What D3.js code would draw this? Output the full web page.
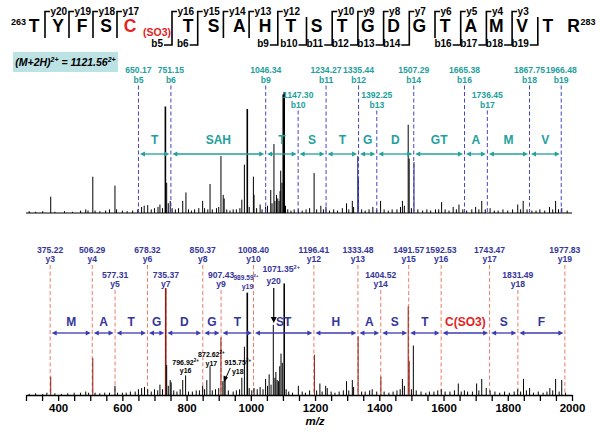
<!DOCTYPE html>
<html><head><meta charset="utf-8">
<script src="https://cdn.jsdelivr.net/npm/d3@7"></script>
<style>body{margin:0;background:#fff}svg{display:block;font-family:"Liberation Sans",Arial,sans-serif}</style>
</head><body><svg id="c" width="605" height="432"></svg>
<script>
// ---------- DATA ----------
const seq = ["T","Y","F","S","C","T","S","A","H","T","S","T","G","D","G","T","A","M","V","T","R"];
const seqStart = 263, seqEnd = 283;
const modIndex = 4;               // C(SO3)
const headerY = [20,19,18,17,16,15,14,13,12,10,9,8,7,6,5,4,3];
const headerB = [5,6,9,10,11,12,13,14,16,17,18,19];
const precursorText = "1121.56";

const bNum = [5,6,9,10,11,12,13,14,16,17,18,19];
const bMz  = [650.17,751.15,1046.34,1147.30,1234.27,1335.44,1392.25,1507.29,1665.38,1736.45,1867.75,1966.48];
const bRow = [0,0,0,1,0,0,1,0,0,1,0,0];
const bSegLabels = ["T","SAH","T","S","T","G","D","GT","A","M","V"];

const yNum = [3,4,5,6,7,8,9,10,12,13,14,15,16,17,18,19];
const yMz  = [375.22,506.29,577.31,678.32,735.37,850.37,907.43,1008.40,1196.41,1333.48,1404.52,1491.57,1592.53,1743.47,1831.49,1977.83];
const yRow = [0,0,1,0,1,0,1,0,0,0,1,0,0,0,1,0];
const ySegLabels = ["M","A","T","G","D","G","T","ST","H","A","S","T","C(SO3)","S","F"];

const dcMz  = [989.59,1071.35,796.92,872.62,915.75];
const dcIon = ["y19","y20","y16","y17","y18"];

const xTicks = [300,350,400,450,500,550,600,650,700,750,800,850,900,950,1000,1050,1100,1150,1200,1250,1300,1350,1400,1450,1500,1550,1600,1650,1700,1750,1800,1850,1900,1950,2000];
const xTickLabels = [400,600,800,1000,1200,1400,1600,1800,2000];

const topMz = [310,330,352,377,390,420,445,470,486,493,508,515,530,548,560,577,582,600,615,632,648,
  660,668,679,690,700,711,717,725,734,738,743,749,755,765,775,788,798,806,815,825,838,850,856,866,873,880,893,900,907,914,917,925,935,945,955,966,972,980,989,995,1008,1010,1018,1029,1035,1046,1052,1062,1066,1072,1075,1080,1084,1088,1091,1093,1097,1101,1104,1108,1115,
  1125,1135,1148,1160,1172,1183,1197,1205,1218,1226,1234,1245,1258,1270,1285,1298,1305,1316,1320,1333,1335,1345,1356,1368,1380,1392,1404,1415,1428,1440,1455,1466,1472,1478,1490,1493,1500,1508,1520,1535,1548,1560,1575,1585,1594,1605,1617,1630,1640,1648,1660,1672,1688,1700,1710,1719,1730,1745,1758,1770,1785,1800,1815,1831,1840,1848,1860,1875,1888,1900,1915,1930,1940,1949,1958,1968,1985];
const topInt = [1.5,1,1.5,13.5,1,1.5,1,2,3,2,30,2,1.5,2,3,22.6,3,2,1.5,2,3,
  5,6,6.5,3,4,5,7,4,88,25,8,10,4,3,4,10,17,3,2,3,4,10,4,3,24,3,4,5,47,15,12,3,2,3,3,4,11,40,86,5,30,15,4,7,3,5,6,19,8,57,10,15,12,10,18,35,25,98,100,6,3,
  2,3,3,2,3,4,33,3,6,3,5,2,3,2,4,8,3,10,5,47,30,3,2,3,5,3,10,3,2,3,3,5,10,6,73,45,4,42,3,2,3,2,3,3,9,3,2,5,3,7,3,2,3,5,3,10,3,4,2,2,3,2,3,7,3,10,3,2,2,3,2,5,3,10,3,4,2];

const botMz = [310,330,352,365,377,390,410,430,450,470,486,495,508,515,530,545,560,577,585,600,612,625,640,650,660,669,679,690,700,710,717,725,735,738,743,749,752,760,770,780,788,797,806,818,830,840,850,856,863,873,880,890,900,907,913,917,920,930,945,955,965,972,980,989,995,1003,1010,1020,1029,1038,1046,1052,1057,1063,1070,1075,1078,1082,1086,1090,1094,1098,1104,1110,1118,
  1130,1148,1160,1170,1183,1198,1205,1215,1222,1233,1238,1250,1262,1275,1288,1298,1305,1316,1320,1334,1345,1356,1370,1378,1392,1405,1415,1430,1443,1455,1465,1472,1478,1490,1493,1500,1506,1515,1530,1545,1556,1570,1582,1593,1605,1620,1634,1646,1655,1665,1675,1690,1703,1710,1719,1733,1745,1760,1775,1790,1805,1820,1831,1840,1849,1858,1868,1880,1895,1910,1922,1931,1940,1949,1960,1968,1980];
const botInt = [1,1.5,1,2,16,1.5,1,1.5,2,2,3,2,32,2,1.5,2,2,8,2,2,2,3,3,5,6,7,5,3,5,4,9,5,93,26,8,13,11,4,3,5,13,17,3,3,4,4,8,5,13,25,4,5,6,50,12,16,14,4,3,4,5,15,42,89,6,4,6,5,7,5,14,8,18,9,61,15,20,13,12,25,36,28,97,5,3,
  2,8,3,2,4,35,4,10,3,8,6,3,2,3,4,12,4,13,7,51,3,3,4,5,3,16,3,2,3,4,5,14,8,77,30,5,43,4,3,2,3,3,4,5,3,3,4,10,3,4,3,3,10,4,14,6,4,3,2,3,2,3,5,3,14,4,6,2,3,2,3,6,4,14,3,13,2];

// ---------- COLORS ----------
const TEAL = "#22a09c", BDASH = "#4444c8", NAVY = "#35359a", RDASH = "#ee7b66", BARROW = "#3b3bb3", RED = "#e5221c";

const svg = d3.select("#c");
const x = d3.scaleLinear().domain([300,2000]).range([26,572]);
const yTop = d3.scaleLinear().domain([0,100]).range([213,92]);
const yBot = d3.scaleLinear().domain([0,100]).range([395,280]);

// ---------- HEADER SEQUENCE ----------
const seqX = i => i <= 4 ? 34 + 24*i : 188 + 25.7*(i-5);
const brX = k => seqX(k) - (k <= 4 ? 13 : k <= 8 ? 16 : k === 9 ? 13 : 10);
const hdr = svg.append("g");
hdr.append("text").attr("x",26).attr("y",25).attr("text-anchor","end").attr("font-size",9).attr("font-weight","bold").text(seqStart);
hdr.selectAll("text.res").data(seq).join("text").attr("class","res")
  .attr("x",(d,i)=>seqX(i)).attr("y",32).attr("text-anchor","middle")
  .attr("font-size",17.5).attr("font-weight","bold").attr("fill",(d,i)=>i===modIndex?RED:"#000").text(d=>d);
hdr.append("text").attr("x",143).attr("y",36).attr("font-size",10.5).attr("font-weight","bold").attr("fill",RED).text("(SO3)");
hdr.append("text").attr("x",seqX(20)+7).attr("y",25).attr("font-size",9).attr("font-weight","bold").text(seqEnd);
const ks = d3.range(1,20);
ks.forEach(k=>{
  const hasY = headerY.includes(21-k), hasB = headerB.includes(k);
  if(!hasY && !hasB) return;
  const bx = brX(k);
  const y0 = hasY ? 11.5 : 17, y1 = hasB ? 45 : 38;
  let d = `M${bx},${y1}L${bx},${y0}`;
  if(hasY) d = `M${bx},${y1}L${bx},${y0}L${bx+5},${y0}`;
  if(hasB) d = `M${bx-8},${y1}` + d.replace(/^M/,"L");
  hdr.append("path").attr("d",d).attr("fill","none").attr("stroke","#000").attr("stroke-width",1.6);
  if(hasY) hdr.append("text").attr("x",bx+5.5).attr("y",14.5).attr("font-size",10).attr("font-weight","bold").text("y"+(21-k));
  if(hasB) hdr.append("text").attr("x",bx-9).attr("y",46.5).attr("text-anchor","end").attr("font-size",10).attr("font-weight","bold").text("b"+k);
});

// precursor box
svg.append("rect").attr("x",13).attr("y",52).attr("width",105).attr("height",20).attr("fill","#bde2e4");
const pt = svg.append("text").attr("x",65.5).attr("y",65.5).attr("text-anchor","middle").attr("font-size",10.5).attr("font-weight","bold").attr("font-style","italic");
pt.append("tspan").text("(M+2H)");
pt.append("tspan").attr("dy",-4).attr("font-size",7).text("2+");
pt.append("tspan").attr("dy",4).text(" = " + precursorText);
pt.append("tspan").attr("dy",-4).attr("font-size",7).text("2+");

// ---------- TOP SPECTRUM ----------
const gTop = svg.append("g");
gTop.append("line").attr("x1",x(300)).attr("x2",x(2000)).attr("y1",yTop(0)).attr("y2",yTop(0)).attr("stroke","#000").attr("stroke-width",1.2);
const nearB = m => bMz.some(v=>Math.abs(v-m)<2.5);
gTop.selectAll("line.pk").data(topMz).join("line").attr("class","pk")
  .attr("x1",d=>x(d)).attr("x2",d=>x(d)).attr("y1",yTop(0)).attr("y2",(d,i)=>yTop(topInt[i]))
  .attr("stroke",(d,i)=>nearB(d)&&topInt[i]>20?"#1c1c6e":"#000").attr("stroke-width",(d,i)=>topInt[i]>80?1.6:1);

// b-ion annotations
bMz.forEach((m,i)=>{
  const xx = x(m), r = bRow[i];
  const base = r ? 97.5 : 72.5;
  gTop.append("line").attr("x1",xx).attr("x2",xx).attr("y1",base+13).attr("y2",yTop(0)+1)
    .attr("stroke",BDASH).attr("stroke-width",1).attr("stroke-dasharray","4,2.5");
  gTop.append("text").attr("x",xx).attr("y",base).attr("text-anchor","middle").attr("font-size",8.6).attr("font-weight","bold").attr("fill",TEAL).text(m.toFixed(2));
  gTop.append("text").attr("x",xx).attr("y",base+10.5).attr("text-anchor","middle").attr("font-size",8.6).attr("font-weight","bold").attr("fill",TEAL).text("b"+bNum[i]);
});

function arrowSeg(g, x1, x2, y, color){
  const ins = 1.5, hl = 5, hw = 2.5;
  g.append("line").attr("x1",x1+ins+hl-1).attr("x2",x2-ins-hl+1).attr("y1",y).attr("y2",y).attr("stroke",color).attr("stroke-width",1.3);
  g.append("path").attr("d",`M${x1+ins},${y}L${x1+ins+hl},${y-hw}L${x1+ins+hl},${y+hw}Z`).attr("fill",color);
  g.append("path").attr("d",`M${x2-ins},${y}L${x2-ins-hl},${y-hw}L${x2-ins-hl},${y+hw}Z`).attr("fill",color);
}
bSegLabels.forEach((lab,i)=>{
  const x1 = x(bMz[i]), x2 = x(bMz[i+1]);
  arrowSeg(gTop, x1, x2, 154, TEAL);
  gTop.append("text").attr("x",(x1+x2)/2).attr("y",144).attr("text-anchor","middle").attr("font-size",12).attr("font-weight","bold").attr("fill",TEAL).text(lab);
});

// ---------- BOTTOM SPECTRUM ----------
const gBot = svg.append("g");
const nearY = m => yMz.some(v=>Math.abs(v-m)<2.5);
yMz.forEach((m,i)=>{
  const xx = x(m), r = yRow[i];
  const base = r ? 277.5 : 252.5;
  gBot.append("line").attr("x1",xx).attr("x2",xx).attr("y1",base+12.5).attr("y2",yBot(0))
    .attr("stroke",RDASH).attr("stroke-width",1).attr("stroke-dasharray","4,2.5");
  gBot.append("text").attr("x",xx).attr("y",base).attr("text-anchor","middle").attr("font-size",8.6).attr("font-weight","bold").attr("fill",NAVY).text(m.toFixed(2));
  gBot.append("text").attr("x",xx).attr("y",base+9.5).attr("text-anchor","middle").attr("font-size",8.6).attr("font-weight","bold").attr("fill",NAVY).text("y"+yNum[i]);
});
gBot.selectAll("line.pk").data(botMz).join("line").attr("class","pk")
  .attr("x1",d=>x(d)).attr("x2",d=>x(d)).attr("y1",yBot(0)).attr("y2",(d,i)=>yBot(botInt[i]))
  .attr("stroke",(d,i)=>nearY(d)&&botInt[i]>15?"#8e1a10":"#000").attr("stroke-width",(d,i)=>botInt[i]>80?1.6:1);

ySegLabels.forEach((lab,i)=>{
  const x1 = x(yMz[i]), x2 = x(yMz[i+1]);
  arrowSeg(gBot, x1, x2, 333, BARROW);
  gBot.append("text").attr("x",(x1+x2)/2).attr("y",326).attr("text-anchor","middle").attr("font-size",12).attr("font-weight","bold")
    .attr("fill",lab.startsWith("C(")?RED:NAVY).text(lab);
});

// doubly charged annotations
function dcText(g, xc, yb, mzTxt, fs, color){
  const t = g.append("text").attr("x",xc).attr("y",yb).attr("text-anchor","middle").attr("font-size",fs).attr("font-weight","bold").attr("fill",color);
  t.append("tspan").text(mzTxt);
  t.append("tspan").attr("dy",-fs*0.4).attr("font-size",fs*0.65).text("2+");
}
function ionText(g, xc, yb, ion, fs, color){
  g.append("text").attr("x",xc).attr("y",yb).attr("text-anchor","middle").attr("font-size",fs).attr("font-weight","bold").attr("fill",color).text(ion);
}
// 989.59 y19
dcText(gBot, x(dcMz[0])-1.5, 279.5, dcMz[0].toFixed(2), 6.6, NAVY);
ionText(gBot, x(dcMz[0]), 288.5, dcIon[0], 7, NAVY);
// 1071.35 y20 with arrow
dcText(gBot, x(dcMz[1])+7.5, 272, dcMz[1].toFixed(2), 8.6, NAVY);
ionText(gBot, x(dcMz[1]), 284, dcIon[1], 8.6, NAVY);
gBot.append("line").attr("x1",x(dcMz[1])).attr("x2",x(dcMz[1])).attr("y1",288).attr("y2",318).attr("stroke","#000").attr("stroke-width",1.2);
gBot.append("path").attr("d",`M${x(dcMz[1])-3},317L${x(dcMz[1])+3},317L${x(dcMz[1])},323Z`).attr("fill","#000");
// 796.92 y16
dcText(gBot, x(dcMz[2]), 365, dcMz[2].toFixed(2), 7, "#000");
ionText(gBot, x(dcMz[2]), 373, dcIon[2], 7, "#000");
// 872.62 y17
dcText(gBot, x(dcMz[3])+1.5, 357, dcMz[3].toFixed(2), 7, "#000");
ionText(gBot, x(dcMz[3])+1.5, 365.5, dcIon[3], 7, "#000");
// 915.75 y18 with arrow
dcText(gBot, x(dcMz[4])+14, 365, dcMz[4].toFixed(2), 7, "#000");
ionText(gBot, x(dcMz[4])+14, 373.5, dcIon[4], 7, "#000");
gBot.append("line").attr("x1",x(dcMz[4])+6.5).attr("y1",368).attr("x2",x(dcMz[4])+2).attr("y2",378).attr("stroke","#000").attr("stroke-width",1);
gBot.append("path").attr("d",`M${x(dcMz[4])+0.5},382L${x(dcMz[4])-0.2},375.5L${x(dcMz[4])+4.2},377.5Z`).attr("fill","#000");

// axis
const ax = svg.append("g").attr("transform",`translate(0,${yBot(0)})`)
  .call(d3.axisBottom(x).tickValues(xTicks).tickSize(6).tickSizeOuter(0).tickPadding(3)
    .tickFormat(d=>xTickLabels.includes(d)?d:""));
ax.select(".domain").attr("stroke-width",1.6);
ax.selectAll(".tick line").attr("stroke-width",1.3);
ax.selectAll("text").attr("font-size",11.5).attr("font-weight","bold").attr("font-family","Liberation Sans, Arial, sans-serif").attr("fill","#000");
svg.append("text").attr("x",315).attr("y",425).attr("text-anchor","middle").attr("font-size",11.5).attr("font-weight","bold").attr("font-style","italic").text("m/z");
</script></body></html>
